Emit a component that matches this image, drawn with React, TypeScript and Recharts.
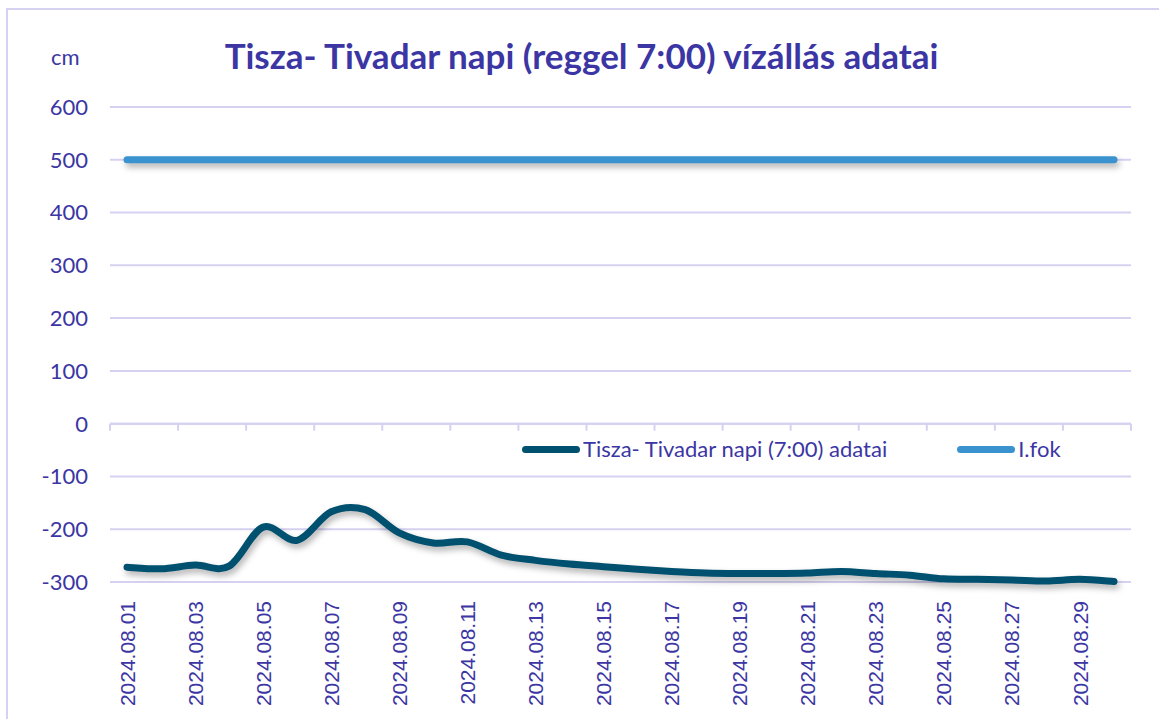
import React from 'react';
import {
    ComposedChart,
    Line,
    XAxis,
    YAxis,
    CartesianGrid,
    ReferenceLine
} from 'recharts';

// Dates on the category axis
const dates = [
    '2024.08.01', '2024.08.02', '2024.08.03', '2024.08.04', '2024.08.05',
    '2024.08.06', '2024.08.07', '2024.08.08', '2024.08.09', '2024.08.10',
    '2024.08.11', '2024.08.12', '2024.08.13', '2024.08.14', '2024.08.15',
    '2024.08.16', '2024.08.17', '2024.08.18', '2024.08.19', '2024.08.20',
    '2024.08.21', '2024.08.22', '2024.08.23', '2024.08.24', '2024.08.25',
    '2024.08.26', '2024.08.27', '2024.08.28', '2024.08.29', '2024.08.30'
];

// Daily 7:00 water level (cm)
const tiszaTivadar = [
    -272, -275, -268, -270, -196, -221, -167, -163, -207, -226,
    -224, -249, -259, -266, -271, -276, -280, -283, -284, -284,
    -283, -280, -284, -287, -294, -295, -296, -298, -295, -299
];

// I. fokú készültségi szint (cm)
const iFok = [
    500, 500, 500, 500, 500, 500, 500, 500, 500, 500,
    500, 500, 500, 500, 500, 500, 500, 500, 500, 500,
    500, 500, 500, 500, 500, 500, 500, 500, 500, 500
];

const yTicks = [-300, -200, -100, 0, 100, 200, 300, 400, 500, 600];

const TEXT = '#3b36a3';
const GRID = '#d5d1f1';
const DARK = '#00506f';
const LIGHT = '#3a93cf';

const data = dates.map((d, i) => ({ date: d, level: tiszaTivadar[i], fok: iFok[i] }));

// Excel-like smoothed line (Catmull-Rom through the points)
const smoothCurve = (context: any) => {
    let pts: number[][] = [];
    return {
        areaStart() {},
        areaEnd() {},
        lineStart() { pts = []; },
        point(x: number, y: number) { pts.push([+x, +y]); },
        lineEnd() {
            if (!pts.length) return;
            context.moveTo(pts[0][0], pts[0][1]);
            for (let i = 0; i < pts.length - 1; i++) {
                const p0 = pts[i - 1] || pts[i];
                const p1 = pts[i];
                const p2 = pts[i + 1];
                const p3 = pts[i + 2] || p2;
                context.bezierCurveTo(
                    p1[0] + (p2[0] - p0[0]) / 6, p1[1] + (p2[1] - p0[1]) / 6,
                    p2[0] - (p3[0] - p1[0]) / 6, p2[1] - (p3[1] - p1[1]) / 6,
                    p2[0], p2[1]
                );
            }
        }
    };
};

const YTick = ({ x, y, payload }: any) => (
    <text x={x} y={y} dy="0.36em" textAnchor="end" fill={TEXT}
        style={{ fontFamily: 'Lato', fontSize: 22 }}>
        {payload.value}
    </text>
);

const XTick = ({ x, y, payload }: any) => (
    <text transform={`translate(${x},${y + 19}) rotate(-90)`} dy="0.36em" textAnchor="end" fill={TEXT}
        style={{ fontFamily: '"Liberation Sans", Arial', fontSize: 21 }}>
        {payload.value}
    </text>
);

// zero line with Excel-style tick marks every second category
const ZeroAxis = ({ x1, y1, x2 }: any) => {
    const left = Math.min(x1, x2);
    const right = Math.max(x1, x2);
    const step = (right - left) / dates.length;
    const marks = [];
    for (let i = 0; i <= dates.length; i += 2) {
        const x = left + i * step;
        marks.push(<line key={i} x1={x} y1={y1} x2={x} y2={y1 + 7} stroke={GRID} strokeWidth={2} />);
    }
    return (
        <g>
            <line x1={left} y1={y1} x2={right} y2={y1} stroke={GRID} strokeWidth={2} />
            {marks}
        </g>
    );
};

const LegendBox = () => (
    <div style={{
        position: 'absolute', left: 522, top: 436, display: 'flex', alignItems: 'center',
        fontFamily: 'Lato', fontSize: 22, color: TEXT, lineHeight: '26px'
    }}>
        <span style={{ width: 58, height: 7, borderRadius: 4, background: DARK, display: 'inline-block' }} />
        <span style={{ marginLeft: 3 }}>Tisza- Tivadar napi (7:00) adatai</span>
        <span style={{ width: 58, height: 7, borderRadius: 4, background: LIGHT, display: 'inline-block', marginLeft: 70 }} />
        <span style={{ marginLeft: 3 }}>I.fok</span>
    </div>
);

export default function App() {
    return (
        <div style={{ position: 'absolute', left: 0, top: 0, width: 1159, height: 719, overflow: 'hidden', background: '#fff' }}>
            <style>{`.recharts-line-curve { filter: drop-shadow(2px 4px 3px rgba(0,0,0,0.3)); }`}</style>
            <div style={{ position: 'absolute', left: 6, top: 8, width: 1200, height: 800, border: `2px solid ${GRID}` }} />
            <div style={{
                position: 'absolute', left: 0, width: 1159, top: 33, textAlign: 'center',
                fontFamily: 'Lato', fontWeight: 700, fontSize: 35, color: TEXT, paddingLeft: 2, lineHeight: '44px'
            }}>
                Tisza- Tivadar napi (reggel 7:00) vízállás adatai
            </div>
            <div style={{ position: 'absolute', left: 51, top: 44, fontFamily: 'Lato', fontSize: 22, color: TEXT, lineHeight: '26px' }}>cm</div>
            <div style={{ position: 'absolute', left: 0, top: 0 }}>
                <ComposedChart width={1159} height={719} data={data}
                    margin={{ top: 107, right: 28, bottom: 0, left: 0 }}>
                    <CartesianGrid vertical={false} stroke={GRID} strokeWidth={2} />
                    <YAxis domain={[-300, 600]} ticks={yTicks} width={110} axisLine={false} tickLine={false}
                        tickSize={0} tickMargin={22} tick={<YTick />} interval={0} />
                    <XAxis dataKey="date" height={137} axisLine={false} tickLine={false} tickSize={0}
                        tickMargin={0} interval={1} tick={<XTick />} padding={{ left: 17, right: 17 }} />
                    <ReferenceLine y={0} shape={(p: any) => <ZeroAxis {...p} />} />
                    <Line dataKey="fok" name="I.fok" stroke={LIGHT} strokeWidth={7} strokeLinecap="round"
                        dot={false} type="linear" isAnimationActive={false} />
                    <Line dataKey="level" name="Tisza- Tivadar napi (7:00) adatai" stroke={DARK} strokeWidth={7}
                        strokeLinecap="round" dot={false} type={smoothCurve as any} isAnimationActive={false} />
                </ComposedChart>
            </div>
            <LegendBox />
        </div>
    );
}
